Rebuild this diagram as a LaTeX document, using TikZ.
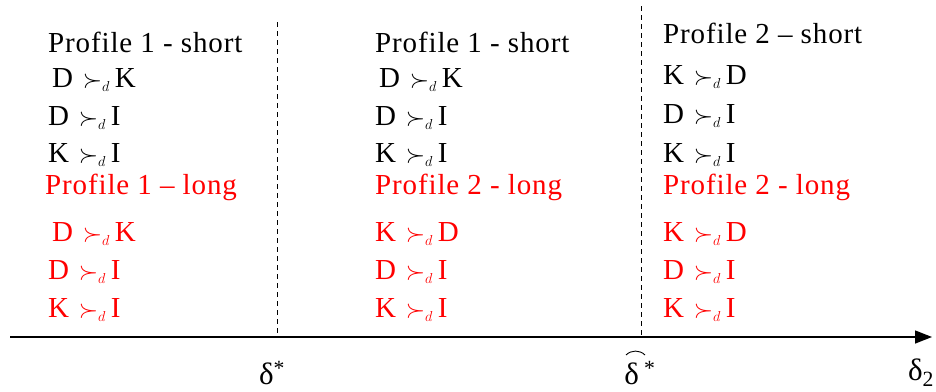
\documentclass[tikz,border=0pt]{standalone}
\usepackage{amsmath}
\usepackage{amssymb}
\usepackage{fontspec}
\setmainfont{Liberation Serif}
\newfontfamily\prefont[LetterSpace=3]{Liberation Serif}
\usetikzlibrary{arrows.meta}

\tikzset{
  pref/.style={font=\prefont\fontsize{29}{32}\selectfont, anchor=west, inner sep=0pt},
  redpref/.style={pref, text={rgb,255:red,255;green,0;blue,0}},
  axislbl/.style={font=\fontsize{31}{34}\selectfont, inner sep=0pt},
}
\newcommand{\pr}[2]{#1\,\,$\succ_{\scriptscriptstyle d}$\,#2}

\begin{document}
\begin{tikzpicture}[x=1pt,y=1pt,yscale=-1,xscale=1]
\useasboundingbox (0,0) rectangle (936,391);

%Shape: Axis
\coordinate (axL) at (10,337);
\coordinate (axR) at (932,337);
\draw [line width=1.4pt, -{Triangle[length=17pt,width=13pt]}] (axL) -- (axR);

%Dashed Lines
\coordinate (dsA) at (277,22);
\coordinate (dsAb) at (277,337);
\coordinate (dsB) at (641,6);
\coordinate (dsBb) at (641,337);
\draw [line width=1pt, dash pattern={on 5pt off 4pt}] (dsA) -- (dsAb);
\draw [line width=1pt, dash pattern={on 5pt off 4pt}] (dsB) -- (dsBb);

% Axis labels
\node [axislbl] (dstar) at (272,373) {δ\textsuperscript{*}};
\node [axislbl] (dhat) at (640,373) {δ\,\textsuperscript{*}};
\node [axislbl] (dtwo) at (921,373) {δ\textsubscript{2}};
% hat over the delta
\coordinate (hatL) at (626,355);
\coordinate (hatR) at (645,355);
\draw [line width=0.9pt] (hatL) to[bend right=45] (hatR);

% Column 1
\node [pref] (c1h) at (48,42) {Profile 1 - short};
\node [pref] (c1a) at (52,80) {\pr{D}{K}};
\node [pref] (c1b) at (48,118) {\pr{D}{I}};
\node [pref] (c1c) at (48,155) {\pr{K}{I}};
\node [redpref] (c1r) at (45,187) {Profile 1 – long};
\node [redpref] (c1d) at (52,234) {\pr{D}{K}};
\node [redpref] (c1e) at (48,272) {\pr{D}{I}};
\node [redpref] (c1f) at (48,310) {\pr{K}{I}};

% Column 2
\node [pref] (c2h) at (375,42) {Profile 1 - short};
\node [pref] (c2a) at (379,80) {\pr{D}{K}};
\node [pref] (c2b) at (375,118) {\pr{D}{I}};
\node [pref] (c2c) at (375,155) {\pr{K}{I}};
\node [redpref] (c2r) at (375,187) {Profile 2 - long};
\node [redpref] (c2d) at (375,234) {\pr{K}{D}};
\node [redpref] (c2e) at (375,272) {\pr{D}{I}};
\node [redpref] (c2f) at (375,310) {\pr{K}{I}};

% Column 3
\node [pref] (c3h) at (663,33) {Profile 2 – short};
\node [pref] (c3a) at (663,77) {\pr{K}{D}};
\node [pref] (c3b) at (663,116) {\pr{D}{I}};
\node [pref] (c3c) at (663,155) {\pr{K}{I}};
\node [redpref] (c3r) at (663,187) {Profile 2 - long};
\node [redpref] (c3d) at (663,234) {\pr{K}{D}};
\node [redpref] (c3e) at (663,272) {\pr{D}{I}};
\node [redpref] (c3f) at (663,310) {\pr{K}{I}};

\end{tikzpicture}
\end{document}
